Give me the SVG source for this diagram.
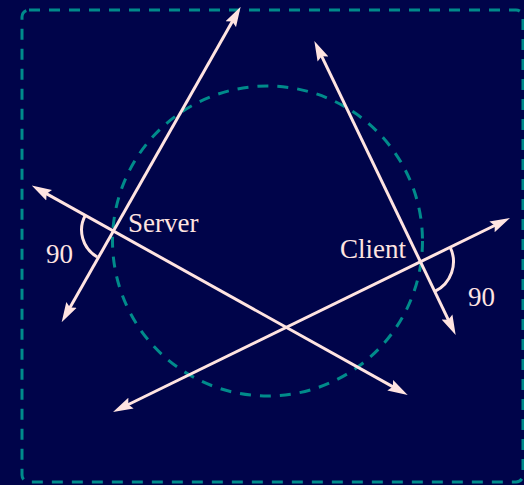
<svg xmlns="http://www.w3.org/2000/svg" width="524" height="485" viewBox="0 0 524 485">
  <defs>
    <style>
      .bg { fill: #00044a; }
      .frame { fill: none; stroke: #008b8b; stroke-width: 3; stroke-dasharray: 11 9; }
      .ring { fill: none; stroke: #008b8b; stroke-width: 3; stroke-dasharray: 11 9; }
      .ray { fill: none; stroke: #ffe4e1; stroke-width: 3; marker-start: url(#head); marker-end: url(#head); }
      .angle { fill: none; stroke: #ffe4e1; stroke-width: 3; }
      .label { font-family: "Liberation Serif", "Times New Roman", serif; font-size: 27px; fill: #ffe4e1; }
    </style>
    <marker id="head" viewBox="0 0 20 14" refX="12" refY="7" markerWidth="20" markerHeight="14" markerUnits="userSpaceOnUse" orient="auto-start-reverse">
      <path d="M0,1 L20,7 L0,13 L3,7 Z" fill="#ffe4e1"/>
    </marker>
  </defs>
  <rect class="bg" x="0" y="0" width="524" height="485"/>
  <rect class="frame" x="22" y="10" width="501" height="472" rx="7" ry="7"/>
  <circle class="ring" cx="267.5" cy="241" r="155"/>

  <g id="connectors">
    <path class="ray" d="M65.6,315.3 L236.7,13.7"/>
    <path class="ray" d="M38.7,189.4 L400.7,391.1"/>
    <path class="ray" d="M317.8,48.2 L452.2,327.8"/>
    <path class="ray" d="M120.2,408.5 L502.8,221.5"/>
  </g>

  <g id="server">
    <path class="angle" d="M85.5,215 A31,31 0 0 0 97.2,257"/>
    <text class="label" x="128" y="232">Server</text>
    <text class="label" x="46" y="263">90</text>
  </g>

  <g id="client">
    <path class="angle" d="M450.1,247.2 A33,33 0 0 1 434.8,291.4"/>
    <text class="label" x="340" y="258">Client</text>
    <text class="label" x="468" y="306">90</text>
  </g>
</svg>
